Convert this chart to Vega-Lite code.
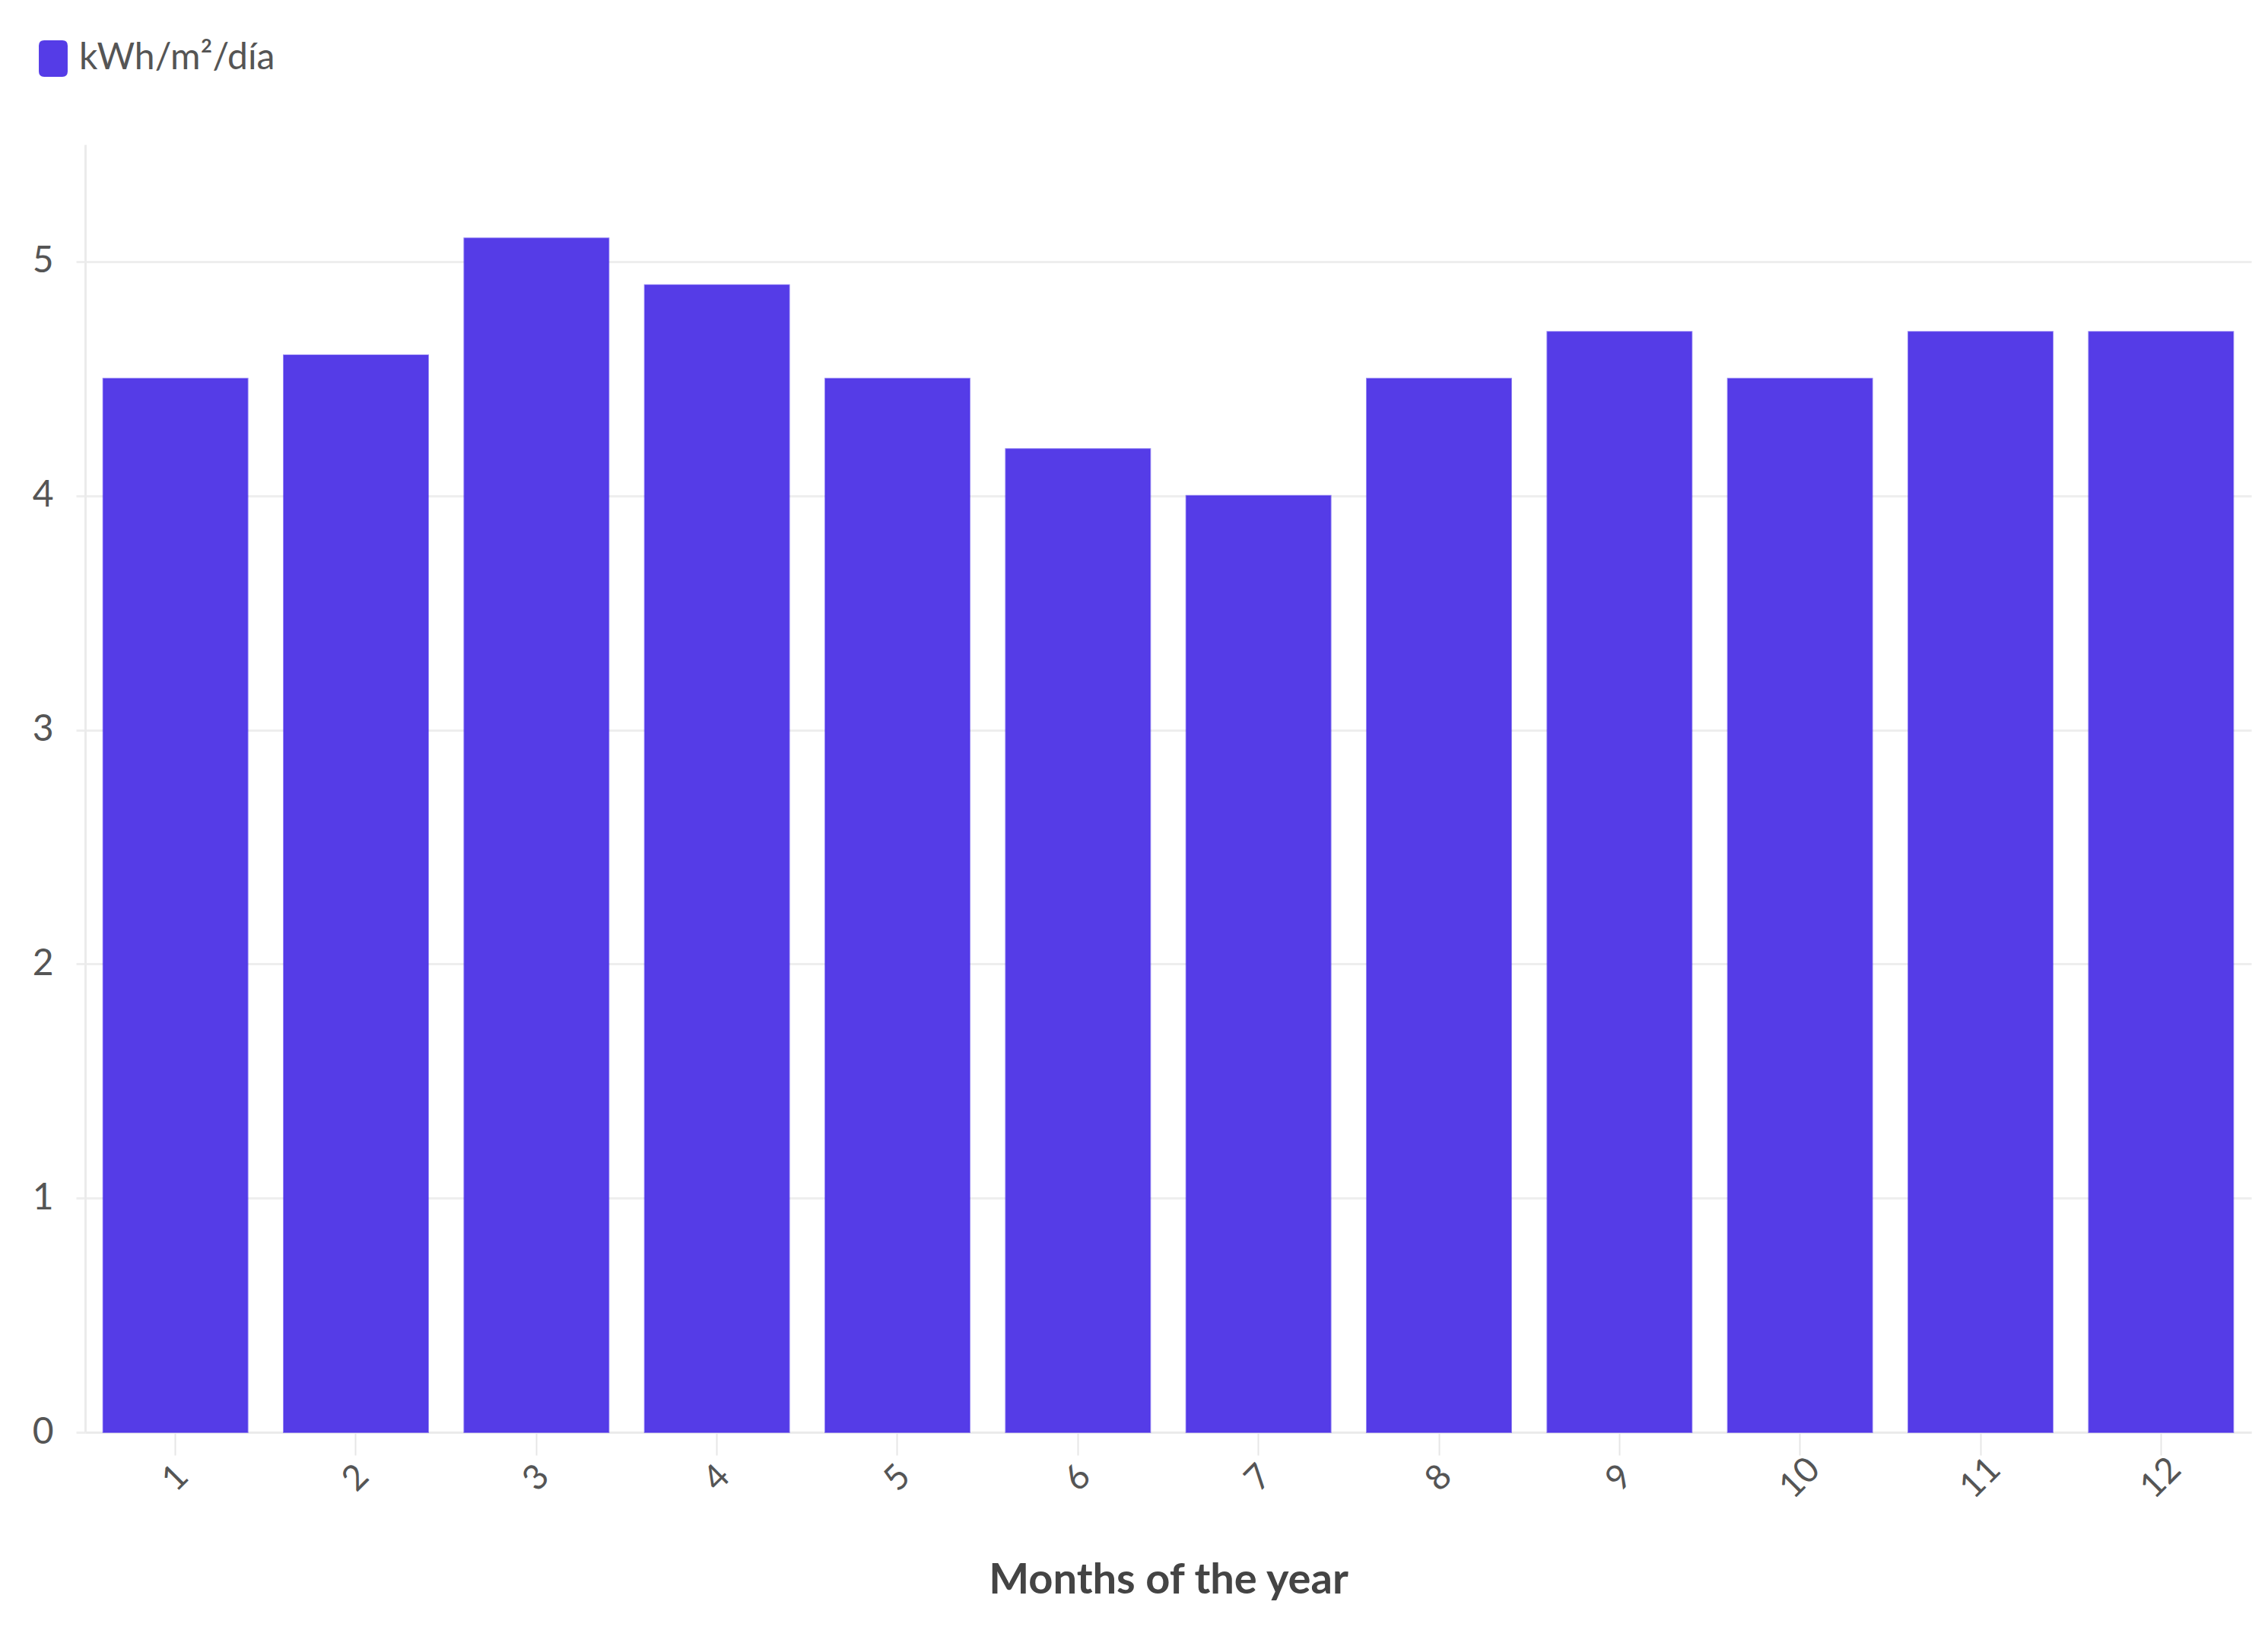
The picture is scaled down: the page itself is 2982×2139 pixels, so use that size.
{
  "$schema": "https://vega.github.io/schema/vega-lite/v6.json",
  "width": 2848,
  "height": 1693,
  "autosize": {"type": "none"},
  "padding": {"left": 112, "top": 190, "right": 22, "bottom": 256},
  "background": "white",
  "data": {
    "values": [
      {"month": "1", "value": 4.5},
      {"month": "2", "value": 4.6},
      {"month": "3", "value": 5.1},
      {"month": "4", "value": 4.9},
      {"month": "5", "value": 4.5},
      {"month": "6", "value": 4.2},
      {"month": "7", "value": 4.0},
      {"month": "8", "value": 4.5},
      {"month": "9", "value": 4.7},
      {"month": "10", "value": 4.5},
      {"month": "11", "value": 4.7},
      {"month": "12", "value": 4.7}
    ]
  },
  "config": {
    "view": {"stroke": null},
    "font": "Lato"
  },
  "mark": {"type": "bar", "stroke": "#4a2eea", "strokeWidth": 2, "strokeOpacity": 0.6},
  "encoding": {
    "x": {
      "field": "month",
      "type": "ordinal",
      "sort": null,
      "scale": {"paddingInner": 0.2, "paddingOuter": 0.1},
      "axis": {
        "title": "Months of the year",
        "titleFont": "Lato",
        "titleFontSize": 56,
        "titleFontWeight": "bold",
        "titleColor": "#444444",
        "titlePadding": 72,
        "labelAngle": -45,
        "labelAlign": "center",
        "labelBaseline": "middle",
        "labelFontSize": 46,
        "labelColor": "#555555",
        "labelPadding": 30,
        "tickSize": 30,
        "tickColor": "#e6e6e6",
        "tickWidth": 2,
        "domainColor": "#ebebeb",
        "domainWidth": 3,
        "grid": false
      }
    },
    "y": {
      "field": "value",
      "type": "quantitative",
      "scale": {"domain": [0, 5.5], "nice": false},
      "axis": {
        "title": null,
        "values": [0, 1, 2, 3, 4, 5],
        "labelFontSize": 48,
        "labelColor": "#555555",
        "labelPadding": 30,
        "tickSize": 12,
        "tickColor": "#eeeeee",
        "tickWidth": 3,
        "gridColor": "#eeeeee",
        "gridWidth": 3,
        "domainColor": "#ebebeb",
        "domainWidth": 3
      }
    },
    "color": {
      "datum": "kWh/m²/día",
      "type": "nominal",
      "scale": {"range": ["#553ce7"]},
      "legend": {
        "title": null,
        "orient": "none",
        "legendX": -66,
        "legendY": -137,
        "symbolType": "M-0.79,-0.7 Q-0.79,-1 -0.5,-1 L0.5,-1 Q0.79,-1 0.79,-0.7 L0.79,0.7 Q0.79,1 0.5,1 L-0.5,1 Q-0.79,1 -0.79,0.7 Z",
        "symbolSize": 2304,
        "symbolFillColor": "#4a2eea",
        "symbolStrokeWidth": 0,
        "symbolOpacity": 1,
        "labelFontSize": 48,
        "labelLimit": 0,
        "labelColor": "#555555",
        "labelOffset": 10
      }
    }
  }
}
